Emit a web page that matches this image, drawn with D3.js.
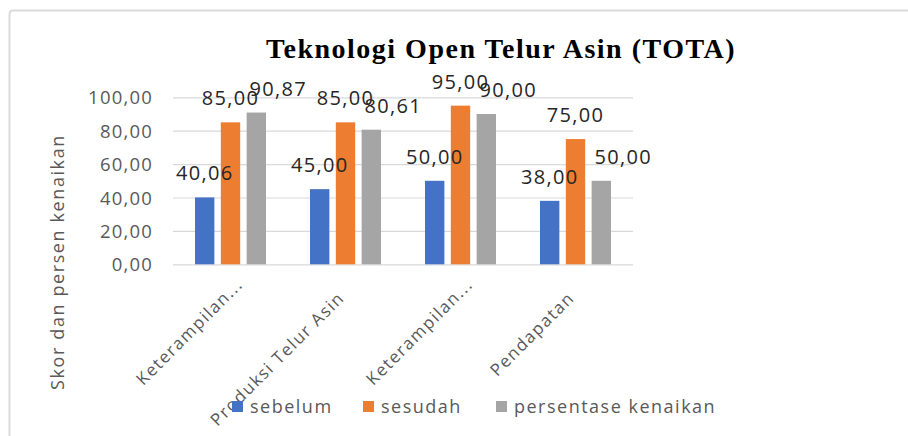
<!DOCTYPE html>
<html>
<head>
<meta charset="utf-8">
<script src="https://cdn.jsdelivr.net/npm/d3@7"></script>
<style>
  html, body { margin: 0; padding: 0; background: #fff; }
  svg { display: block; }
</style>
</head>
<body>
<svg id="chart" width="908" height="436"></svg>
<script>
const title = "Teknologi Open Telur Asin (TOTA)";
const categories = ["Keterampilan...", "Produksi Telur Asin", "Keterampilan...", "Pendapatan"];
const seriesNames = ["sebelum", "sesudah", "persentase kenaikan"];
const sebelum = [40.06, 45.00, 50.00, 38.00];
const sesudah = [85.00, 85.00, 95.00, 75.00];
const persentaseKenaikan = [90.87, 80.61, 90.00, 50.00];
const yTicks = [0, 20, 40, 60, 80, 100];
const yTitle = "Skor dan persen kenaikan";

const colors = ["#4472C4", "#ED7D31", "#A5A5A5"];
const seriesValues = [sebelum, sesudah, persentaseKenaikan];
const labelShift = [0, 0, 22]; // horizontal shift of data labels per series

const svg = d3.select("#chart");
const W = 908, H = 436;
const plot = { left: 173, right: 633, top: 97.3, bottom: 264.3 };
const font = "'Open Sans', 'Noto Sans', sans-serif";

// frame
svg.append("path")
  .attr("d", `M9.5,${H} L9.5,14 Q9.5,10.5 13,10.5 L${W},10.5`)
  .attr("fill", "none").attr("stroke", "#DADADA").attr("stroke-width", 2);

// title
svg.append("text")
  .attr("x", 501).attr("y", 58)
  .attr("text-anchor", "middle")
  .attr("font-family", "'Liberation Serif', 'Times New Roman', serif")
  .attr("font-weight", "bold").attr("font-size", 28)
  .attr("letter-spacing", "1.5px")
  .attr("fill", "#000")
  .text(title);

const y = d3.scaleLinear().domain([0, 100]).range([plot.bottom, plot.top]);
const x0 = d3.scaleBand().domain(d3.range(categories.length)).range([plot.left, plot.right]).paddingInner(0).paddingOuter(0);
const x1 = d3.scaleBand().domain(d3.range(seriesNames.length)).range([22, x0.bandwidth() - 22]).paddingInner(0.25).paddingOuter(0);

// gridlines
const yAxis = d3.axisLeft(y).tickValues(yTicks).tickSize(-(plot.right - plot.left))
  .tickFormat(d => d3.format(".2f")(d).replace(".", ","));
const gy = svg.append("g").attr("transform", `translate(${plot.left},0)`).call(yAxis);
gy.select(".domain").remove();
gy.selectAll(".tick line").attr("stroke", "#D9D9D9").attr("stroke-width", 1.2);
gy.selectAll(".tick text")
  .attr("x", -20).attr("dy", "0.36em")
  .attr("font-family", font).attr("font-size", 18.5).attr("letter-spacing", "1.2px")
  .attr("fill", "#595959");

// bars
const groups = svg.append("g").selectAll("g")
  .data(categories.map((c, i) => ({ c, i })))
  .join("g")
  .attr("transform", d => `translate(${x0(d.i)},0)`);

groups.selectAll("rect")
  .data(d => seriesValues.map((vals, s) => ({ s, v: vals[d.i] })))
  .join("rect")
  .attr("x", d => x1(d.s))
  .attr("width", x1.bandwidth())
  .attr("y", d => y(d.v))
  .attr("height", d => y(0) - y(d.v))
  .attr("fill", d => colors[d.s]);

// data labels
groups.selectAll("text.lbl")
  .data(d => seriesValues.map((vals, s) => ({ s, v: vals[d.i] })))
  .join("text")
  .attr("class", "lbl")
  .attr("x", d => x1(d.s) + x1.bandwidth() / 2 + labelShift[d.s])
  .attr("y", d => y(d.v) - 17)
  .attr("text-anchor", "middle")
  .attr("font-family", font).attr("font-size", 20).attr("letter-spacing", "1.3px")
  .attr("fill", "#262626")
  .text(d => d3.format(".2f")(d.v).replace(".", ","));

// category labels
svg.append("g").selectAll("text")
  .data(categories.map((c, i) => ({ c, i })))
  .join("text")
  .attr("transform", d => `translate(${x0(d.i) + x0.bandwidth() / 2},299) rotate(-45)`)
  .attr("dx", d => d.c.endsWith("...") ? 19 : 0)
  .attr("text-anchor", "end")
  .attr("font-family", font).attr("font-size", 17).attr("letter-spacing", "1.5px")
  .attr("fill", "#595959")
  .text(d => d.c);

// y title
svg.append("text")
  .attr("transform", "translate(64,262) rotate(-90)")
  .attr("text-anchor", "middle")
  .attr("font-family", font).attr("font-size", 18).attr("letter-spacing", "1.6px")
  .attr("fill", "#595959")
  .text(yTitle);

// legend
const legendX = [232, 363, 496];
const lg = svg.append("g").selectAll("g")
  .data(seriesNames.map((n, i) => ({ n, i })))
  .join("g")
  .attr("transform", d => `translate(${legendX[d.i]},401)`);
lg.append("rect").attr("width", 11).attr("height", 11).attr("fill", d => colors[d.i]);
lg.append("text")
  .attr("x", 18).attr("y", 12)
  .attr("font-family", font).attr("font-size", 18).attr("letter-spacing", "1.5px")
  .attr("fill", "#595959")
  .text(d => d.n);
</script>
</body>
</html>
